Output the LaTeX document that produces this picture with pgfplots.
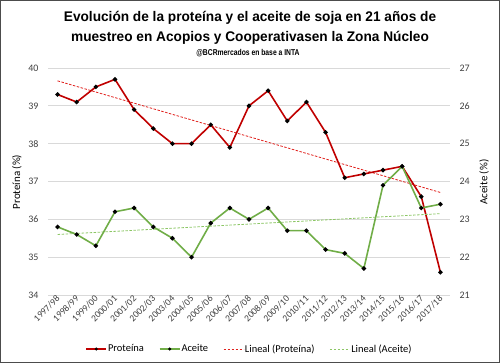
\documentclass[border=0pt]{standalone}
\usepackage{fontspec}
\setmainfont{Carlito}
\newfontfamily\titlefont[FakeStretch=0.98]{Liberation Sans}
\newfontfamily\subfont[FakeStretch=0.8]{Liberation Sans}
\usepackage{pgfplots}
\pgfplotsset{compat=1.18}
\definecolor{prot}{HTML}{C00000}
\definecolor{acei}{HTML}{70AD47}
\definecolor{protT}{HTML}{E0201C}
\definecolor{aceiT}{HTML}{8CC665}
\definecolor{txt}{HTML}{404040}
\definecolor{grd}{HTML}{D9D9D9}
\pgfplotsset{
  base/.style={
    scale only axis, width=402bp, height=227bp,
    at={(48bp,68bp)}, anchor=south west,
    xmin=-0.5, xmax=20.5,
    axis line style={draw=none},
    major tick length=0pt,
    tick label style={font=\fontsize{10}{12}\selectfont, text=txt},
    /pgf/number format/assume math mode=true,
  }
}
\begin{document}
\begin{tikzpicture}
\useasboundingbox (0,0) rectangle (500bp,363bp);
\draw[gray!60!black, line width=1.2bp] (0.6bp,0.6bp) rectangle (499.4bp,362.4bp);
\node[font=\titlefont\bfseries\fontsize{14}{16}\selectfont, anchor=base] at (250bp,341.3bp) {Evolución de la proteína y el aceite de soja en 21 años de};
\node[font=\titlefont\bfseries\fontsize{14}{16}\selectfont, anchor=base] at (250bp,321.3bp) {muestreo en Acopios y Cooperativasen la Zona Núcleo};
\node[font=\subfont\bfseries\fontsize{8.5}{10}\selectfont, anchor=base] at (248bp,307bp) {@BCRmercados en base a INTA};
\node[font=\fontsize{11}{13}\selectfont, rotate=90] at (17bp,181bp) {Proteína (\%)};
\node[font=\fontsize{11}{13}\selectfont, rotate=90] at (484bp,181bp) {Aceite (\%)};

\begin{axis}[base,
  ymin=34, ymax=40, ytick={34,35,...,40},
  ymajorgrids, grid style={grd, line width=0.8bp},
  xtick={0,...,20},
  xticklabels={1997/98,1998/99,1999/00,2000/01,2001/02,2002/03,2003/04,2004/05,2005/06,2006/07,2007/08,2008/09,2009/10,2010/11,2011/12,2012/13,2013/14,2014/15,2015/16,2016/17,2017/18},
  xticklabel style={rotate=45, anchor=east, font=\fontsize{9.5}{11}\selectfont, inner sep=1pt, yshift=-2bp},
  yticklabel style={xshift=-6bp},
]
\addplot[protT, line width=0.8bp, dash pattern=on 2.5bp off 1.5bp] coordinates {(0,39.66) (20,36.71)};
\addplot[prot, line width=1.6bp, mark=*, mark size=1.3bp, mark options={fill=black, draw=black}] coordinates {
(0,39.3) (1,39.1) (2,39.5) (3,39.7) (4,38.9) (5,38.4) (6,38.0) (7,38.0) (8,38.5) (9,37.9) (10,39.0) (11,39.4) (12,38.6) (13,39.1) (14,38.3) (15,37.1) (16,37.2) (17,37.3) (18,37.4) (19,36.6) (20,34.6)};
\end{axis}

\begin{axis}[base,
  ymin=21, ymax=27, ytick={21,22,...,27},
  axis y line*=right, axis x line=none,
  yticklabel style={xshift=6bp},
  legend columns=4,
  legend style={draw=none, at={(0.5,-0.238)}, anchor=center, font=\fontsize{10.5}{12}\selectfont, column sep=0pt, inner sep=0pt, nodes={inner xsep=1bp}},
  /tikz/every odd column/.append style={column sep=0bp},
  /tikz/every even column/.append style={column sep=14bp},
]
\addplot[aceiT, line width=0.8bp, dash pattern=on 2.5bp off 1.5bp, forget plot] coordinates {(0,22.6) (20,23.15)};
\addplot[acei, line width=1.6bp, mark=*, mark size=1.3bp, mark options={fill=black, draw=black}, forget plot] coordinates {
(0,22.8) (1,22.6) (2,22.3) (3,23.2) (4,23.3) (5,22.8) (6,22.5) (7,22.0) (8,22.9) (9,23.3) (10,23.0) (11,23.3) (12,22.7) (13,22.7) (14,22.2) (15,22.1) (16,21.7) (17,23.9) (18,24.4) (19,23.3) (20,23.4)};
\addlegendimage{legend image code/.code={\draw[prot, line width=1.6bp] (0bp,0bp) -- (20bp,0bp); \fill[black] (10bp,0bp) circle (1.3bp);}}
\addlegendentry{Proteína}
\addlegendimage{legend image code/.code={\draw[acei, line width=1.6bp] (0bp,0bp) -- (20bp,0bp); \fill[black] (10bp,0bp) circle (1.3bp);}}
\addlegendentry{Aceite}
\addlegendimage{legend image code/.code={\draw[protT, line width=0.8bp, dash pattern=on 2.5bp off 1.5bp] (0bp,0bp) -- (20bp,0bp);}}
\addlegendentry{Lineal (Proteína)}
\addlegendimage{legend image code/.code={\draw[aceiT, line width=0.8bp, dash pattern=on 2.5bp off 1.5bp] (0bp,0bp) -- (20bp,0bp);}}
\addlegendentry{Lineal (Aceite)}
\end{axis}
\end{tikzpicture}
\end{document}
